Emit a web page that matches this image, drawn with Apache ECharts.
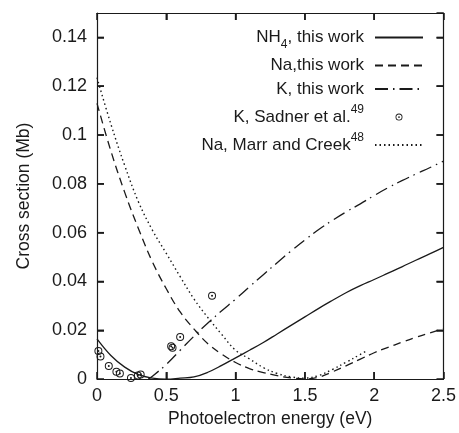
<!DOCTYPE html>
<html>
<head>
<meta charset="utf-8">
<script src="https://cdn.jsdelivr.net/npm/echarts@6/dist/echarts.min.js"></script>
<style>
  html, body { margin: 0; padding: 0; background: #fff; }
  #chart { width: 459px; height: 433px; }
</style>
</head>
<body>
<div id="chart"></div>
<script>
// photoelectron energy grid (eV)
const energy = [0, 0.1, 0.2, 0.3, 0.4, 0.5, 0.6, 0.7, 0.8, 0.9, 1.0, 1.1, 1.2,
  1.3, 1.4, 1.5, 1.6, 1.7, 1.8, 1.9, 2.0, 2.1, 2.2, 2.3, 2.4, 2.5];

// cross sections (Mb)
const nh4This = [0.0165, 0.0097, 0.0049, 0.0018, 0.0004, 0.0000, 0.0004, 0.0009, 0.0028,
  0.0056, 0.0087, 0.0118, 0.0150, 0.0185, 0.0220, 0.0255, 0.0290, 0.0323, 0.0355,
  0.0383, 0.0408, 0.0434, 0.0460, 0.0487, 0.0513, 0.0540];
const naThis = [0.113, 0.0935, 0.0765, 0.0615, 0.048, 0.037, 0.0275, 0.0205, 0.0145,
  0.0102, 0.0068, 0.0043, 0.0027, 0.0014, 0.0005, 0.0001, 0.0008, 0.0030, 0.0055,
  0.0082, 0.0108, 0.0130, 0.0151, 0.0171, 0.0189, 0.0206];

const kEnergy = [0.37, 0.4, 0.5, 0.6, 0.7, 0.8, 0.9, 1.0, 1.1, 1.2, 1.3, 1.4, 1.5,
  1.6, 1.7, 1.8, 1.9, 2.0, 2.1, 2.2, 2.3, 2.4, 2.5];
const kThis = [0.0, 0.0012, 0.0060, 0.0118, 0.0176, 0.0230, 0.0280, 0.0328, 0.0378,
  0.0428, 0.0477, 0.0525, 0.0570, 0.0613, 0.0651, 0.0686, 0.0718, 0.0752, 0.0784,
  0.0813, 0.0840, 0.0866, 0.0893];

const marrEnergy = [0, 0.1, 0.2, 0.3, 0.4, 0.5, 0.6, 0.7, 0.8, 0.9, 1.0, 1.1, 1.2,
  1.3, 1.4, 1.5, 1.6, 1.7, 1.8, 1.9, 1.95];
const naMarr = [0.1235, 0.1045, 0.0875, 0.0725, 0.061, 0.0515, 0.042, 0.0328, 0.0252,
  0.0183, 0.0118, 0.0083, 0.0047, 0.0023, 0.0009, 0.0004, 0.0015, 0.0040, 0.0070,
  0.0101, 0.0117];

const sadnerE = [0.01, 0.025, 0.085, 0.14, 0.165, 0.245, 0.295, 0.315, 0.535, 0.545, 0.6, 0.83];
const sadnerSigma = [0.0115, 0.0093, 0.0054, 0.003, 0.0023, 0.0005, 0.0015, 0.0019,
  0.0135, 0.0128, 0.0172, 0.0342];

// tick values on the box
const xTicks = [0.5, 1, 1.5, 2];
const yTicks = [0.02, 0.04, 0.06, 0.08, 0.1, 0.12, 0.14];

const legendLabels = {
  'NH4, this work': '{t|NH}{sub|4}{t|, this work}',
  'Na,this work': '{t|Na,this work}',
  'K, this work': '{t|K, this work}',
  'K, Sadner et al.': '{t|K, Sadner et al.}{sup|49}',
  'Na, Marr and Creek': '{t|Na, Marr and Creek}{sup|48}'
};

const ink = '#1a1a1a';
const font = 'Liberation Sans';
const tickLen = 7;
// ring with a dot in the middle
const ringDot = 'path://M0,10 A10,10 0 1,1 20,10 A10,10 0 1,1 0,10 Z ' +
  'M2.5,10 A7.5,7.5 0 1,0 17.5,10 A7.5,7.5 0 1,0 2.5,10 Z ' +
  'M7.5,10 A2.5,2.5 0 1,1 12.5,10 A2.5,2.5 0 1,1 7.5,10 Z';

function zip(xs, ys) {
  return xs.map((x, i) => [x, ys[i]]);
}

// short inward ticks on all four sides, placed through the axes
function renderTicks(params, api) {
  const box = params.coordSys;
  const bottom = box.y + box.height;
  const right = box.x + box.width;
  const parts = [];
  xTicks.forEach(function (v) {
    const px = api.coord([v, 0])[0];
    parts.push({ type: 'rect', shape: { x: px - 0.75, y: bottom - tickLen, width: 1.5, height: tickLen },
      style: { fill: ink } });
    parts.push({ type: 'rect', shape: { x: px - 0.75, y: box.y, width: 1.5, height: tickLen },
      style: { fill: ink } });
  });
  yTicks.forEach(function (v) {
    const py = api.coord([0, v])[1];
    parts.push({ type: 'rect', shape: { x: box.x, y: py - 0.75, width: tickLen, height: 1.5 },
      style: { fill: ink } });
    parts.push({ type: 'rect', shape: { x: right - tickLen, y: py - 0.75, width: tickLen, height: 1.5 },
      style: { fill: ink } });
  });
  return { type: 'group', children: parts };
}

let myChart = echarts.init(document.getElementById('chart'));

// every side of the box is an axis line
function frameAxis(extra) {
  return Object.assign({
    type: 'value',
    axisLine: { show: true, onZero: false, lineStyle: { color: ink, width: 1.2 } },
    axisTick: { show: true, inside: true, length: tickLen, lineStyle: { color: ink, width: 1.5 } },
    splitLine: { show: false }
  }, extra);
}

let option = {
  animation: false,
  grid: { left: 97, right: 13, top: 13, bottom: 53 },
  legend: {
    orient: 'vertical',
    align: 'right',
    right: 35,
    top: 29,
    padding: 0,
    itemGap: 6.5,
    itemWidth: 48,
    itemHeight: 7,
    selectedMode: false,
    formatter: function (name) { return legendLabels[name]; },
    textStyle: {
      padding: [0, 6, 0, 0],
      rich: {
        t: { fontFamily: font, fontSize: 17, lineHeight: 26, color: ink },
        sub: { fontFamily: font, fontSize: 12, lineHeight: 16, verticalAlign: 'bottom', color: ink },
        sup: { fontFamily: font, fontSize: 12, lineHeight: 10, verticalAlign: 'top', color: ink }
      }
    },
    data: ['NH4, this work', 'Na,this work', 'K, this work', 'K, Sadner et al.', 'Na, Marr and Creek']
  },
  xAxis: [
    frameAxis({
      min: 0, max: 2.5, interval: 0.5, position: 'bottom',
      name: 'Photoelectron energy (eV)',
      nameLocation: 'middle', nameGap: 25,
      nameTextStyle: { fontFamily: font, fontSize: 17.5, color: ink },
      axisLabel: { margin: 8, fontFamily: font, fontSize: 18, color: ink }
    }),
    frameAxis({
      min: 0, max: 2.5, interval: 0.5, position: 'top',
      axisLabel: { show: false }
    })
  ],
  yAxis: [
    frameAxis({
      min: 0, max: 0.15, interval: 0.02, position: 'left',
      name: 'Cross section (Mb)',
      nameLocation: 'middle', nameGap: 64,
      nameTextStyle: { fontFamily: font, fontSize: 17.5, color: ink },
      axisLabel: { margin: 10, fontFamily: font, fontSize: 18, color: ink, showMaxLabel: false }
    }),
    frameAxis({
      min: 0, max: 0.15, interval: 0.02, position: 'right',
      axisLabel: { show: false }
    })
  ],
  series: [
    {
      name: 'NH4, this work', type: 'line', smooth: 0.4, symbol: 'none',
      lineStyle: { color: ink, width: 1.3, type: 'solid' },
      itemStyle: { color: 'rgba(0,0,0,0)' },
      data: zip(energy, nh4This)
    },
    {
      name: 'Na,this work', type: 'line', smooth: 0.4, symbol: 'none',
      lineStyle: { color: ink, width: 1.3, type: [8, 5] },
      itemStyle: { color: 'rgba(0,0,0,0)' },
      data: zip(energy, naThis)
    },
    {
      name: 'K, this work', type: 'line', smooth: 0.4, symbol: 'none',
      lineStyle: { color: ink, width: 1.3, type: [13, 5, 1.5, 5] },
      itemStyle: { color: 'rgba(0,0,0,0)' },
      data: zip(kEnergy, kThis)
    },
    {
      name: 'K, Sadner et al.', type: 'scatter', symbol: ringDot, symbolSize: 8,
      itemStyle: { color: ink, opacity: 1 },
      data: zip(sadnerE, sadnerSigma)
    },
    {
      name: 'Na, Marr and Creek', type: 'line', smooth: 0.4, symbol: 'none',
      lineStyle: { color: ink, width: 1.4, type: [1.5, 3] },
      itemStyle: { color: 'rgba(0,0,0,0)' },
      data: zip(marrEnergy, naMarr)
    },
    {
      name: 'ticks', type: 'custom', silent: true, clip: false, z: 10,
      renderItem: renderTicks,
      data: [[1, 0.05]]
    },
    // empty series so the mirrored top/right axes are drawn
    { name: 'mirror', type: 'line', xAxisIndex: 1, yAxisIndex: 1, data: [], silent: true }
  ]
};

myChart.setOption(option);
</script>
</body>
</html>
